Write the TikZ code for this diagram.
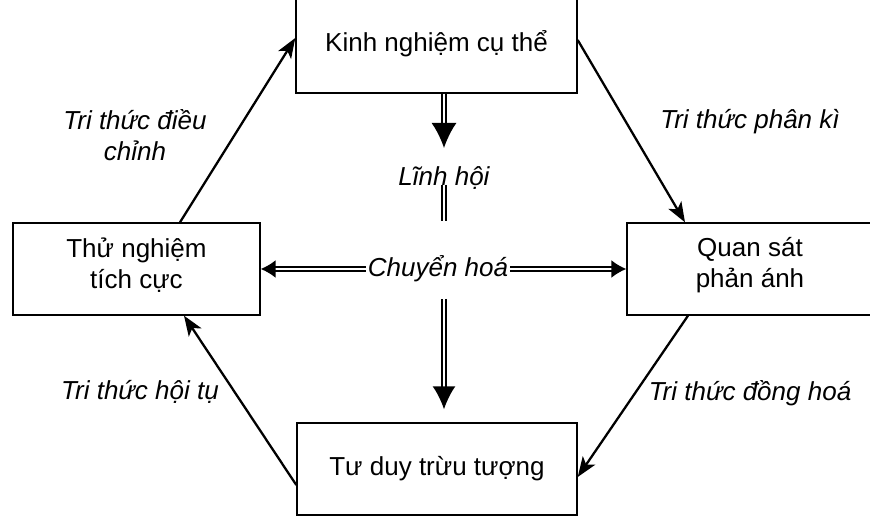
\documentclass[tikz,border=0pt]{standalone}
\usepackage{fontspec}
\setmainfont{Liberation Sans}
\usetikzlibrary{arrows.meta}

\newcommand{\diagscale}{1}
\newcommand{\lowstrut}{\rule[-0.25cm]{0pt}{0.25cm}}

\begin{document}
\fontsize{14.8}{17.6}\selectfont
\begin{tikzpicture}[scale = \diagscale,
  box/.style = {draw, line width = 0.8pt, inner sep = 0pt, align = center},
  lab/.style = {font = \itshape, align = center},
  arr/.style = {line width = 1.3pt, -{Stealth[length = 0.4cm, width = 0.3cm, inset = 0.1cm]}},
  dbl/.style = {double, line width = 1pt, double distance = 1.5pt}]

\useasboundingbox (0,0) rectangle (17.4,10.34);

\node [box, minimum width = 5.62cm, minimum height = 1.96cm] (v1) at (8.73,9.46) {Kinh nghiệm cụ thể};
\node [box, minimum width = 4.92cm, minimum height = 1.84cm] (v2) at (15.0,4.96) {Quan sát\\phản ánh\lowstrut};
\node [box, minimum width = 5.6cm, minimum height = 1.84cm] (v3) at (8.74,0.96) {Tư duy trừu tượng};
\node [box, minimum width = 4.94cm, minimum height = 1.84cm] (v4) at (2.73,4.96) {Thử nghiệm\\tích cực\lowstrut};

\node [lab] (c1) at (8.88,6.78) {Lĩnh hội};
\node [lab, inner sep = 1pt] (c2) at (8.76,4.96) {Chuyển hoá};

\node [lab] (t1) at (2.7,7.64) {Tri thức điều\\chỉnh};
\node [lab] (t2) at (15.0,7.9) {Tri thức phân kì};
\node [lab] (t3) at (15.0,2.48) {Tri thức đồng hoá};
\node [lab] (t4) at (2.8,2.5) {Tri thức hội tụ};

% chu trinh
\draw [arr] ([xshift = 0.87cm]v4.north) -- ([yshift = 0.12cm]v1.west);
\draw [arr] ([yshift = 0.08cm]v1.east) -- ([xshift = -1.3cm]v2.north);
\draw [arr] ([xshift = -1.24cm]v2.south) -- ([yshift = -0.16cm]v3.east);
\draw [arr] ([yshift = -0.32cm]v3.west) -- ([xshift = 0.95cm]v4.south);

% truc giua
\draw [dbl, -{Latex[length = 0.5cm, width = 0.5cm]}] (v1.south -| c1) -- ([yshift = 0.6cm]c1.center);
\draw [dbl] ([yshift = -0.14cm]c1.center) -- ([yshift = 0.96cm]c1.center |- c2.center);
\draw [dbl, -{Latex[length = 0.46cm, width = 0.46cm]}, shorten < = 0.29cm, shorten > = 0.26cm] (c1 |- c2.south) -- (c1 |- v3.north);
\draw [dbl, -{Latex[length = 0.3cm, width = 0.36cm]}] (c2.west) -- (c2.west -| v4.east);
\draw [dbl, -{Latex[length = 0.3cm, width = 0.36cm]}] (c2.east) -- (c2.east -| v2.west);

\end{tikzpicture}
\end{document}
